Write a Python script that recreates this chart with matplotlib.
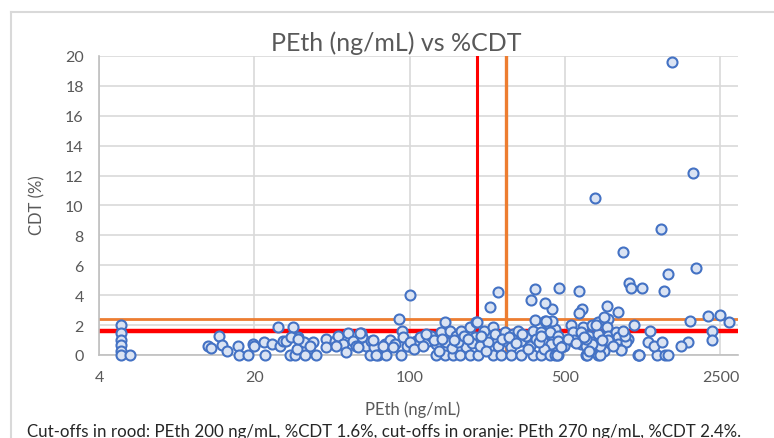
import matplotlib
matplotlib.use("Agg")
import matplotlib.pyplot as plt
from matplotlib.lines import Line2D
from matplotlib.ticker import NullLocator

plt.rcParams['font.family'] = ['Lato', 'DejaVu Sans']

# PEth below 20 ng/mL
peth_low = [5, 5, 5, 5, 5, 5, 5.5, 12.4, 12.7, 13.9, 14.3, 15.1, 16.9, 17.1, 18.8, 19.8, 20.0]
cdt_low = [2.0, 1.45, 1.0, 0.7, 0.3, 0.0, 0.0, 0.6, 0.5, 1.25, 0.7, 0.3, 0.6, 0.0, 0.0, 0.75, 0.6]

# PEth 20 - 200 ng/mL
peth_mid = [22.1, 22.3, 24.1, 25.6, 26, 27, 27.9, 29.9, 29, 30.5, 31, 31.5, 33.5, 33.7, 36.8, 38,
            41.9, 41.9, 46, 47.5, 50.2, 51.5, 52.8, 55.6, 57.5, 60.2, 61.3, 63.8, 66, 67.3, 69,
            29.3, 31.3, 35.5, 46.8, 58.6, 59.6, 68.4, 72, 77.2, 78.5, 81.3, 85.6, 89.6, 92.8, 93.3,
            91.8, 99, 107, 70.3, 75.9, 84.2, 96.8, 100, 100,
            110.9, 120.8, 125, 131.8, 138.8, 143.6, 146, 151.3, 162, 170.7, 173.5, 180, 186, 196, 199.5,
            131.8, 143.6, 156.6, 167.7, 186, 202,
            105, 115, 128, 135, 140, 155, 165, 175, 190, 118, 158, 183]
cdt_mid = [0.85, 0.0, 0.73, 1.85, 0.62, 0.95, 0.95, 1.85, 0.0, 0.0, 0.4, 1.18, 0.85, 0.0, 0.85, 0.0,
           1.07, 0.51, 0.95, 1.29, 0.73, 0.18, 1.47, 0.95, 0.62, 1.47, 1.18, 0.62, 0.0, 0.95, 0.51,
           1.18, 1.07, 0.62, 0.62, 0.51, 1.45, 1.0, 0.0, 0.73, 0.0, 1.0, 0.73, 2.4, 1.62, 1.18,
           0.0, 0.62, 0.95, 0.0, 0.62, 0.51, 0.62, 0.85, 4.0,
           1.18, 0.96, 1.29, 0.73, 1.51, 2.18, 0.85, 1.62, 1.29, 1.62, 0.85, 0.51, 1.85, 1.18, 2.18,
           0.0, 0.0, 0.0, 0.0, 0.0, 0.0,
           0.4, 0.6, 1.0, 0.3, 1.1, 0.5, 0.9, 1.3, 0.8, 1.4, 1.0, 1.1]

# PEth above 200 ng/mL
peth_high = [206.4, 217, 224.5, 236.9, 241, 249, 267.3, 271.5, 285.7, 290.4, 305.6, 316.5, 334.8, 346,
             358, 370, 397.5, 411, 433, 449,
             236.9, 258, 285.7, 316.5, 358, 389,
             230, 250, 200, 368, 408, 437, 352, 405, 368, 470, 580, 593, 575, 770, 865, 750, 779,
             1025, 911, 970, 985, 1115, 1455, 1400, 1940, 1510, 1880, 680, 1350,
             533, 601, 664, 700, 774, 439, 411,
             391, 404, 426, 464, 542, 592, 644, 700, 779, 850, 924, 864, 956,
             397.5, 433, 464, 488, 542, 592, 622, 664, 713, 792, 864, 893, 940, 404,
             426, 464, 622, 700, 750, 1080,
             449, 460, 630, 715, 1063, 1075, 1293, 1408, 1460, 1210, 1178, 1262, 1367,
             1815, 2200, 2500, 2720, 2300, 2300, 1780, 1665, 930, 911, 890, 780, 720, 660, 620,
             550, 497, 480, 691, 745,
             210, 220, 260, 280, 300, 320, 340, 380, 390, 515, 560, 610, 640, 730, 820]
cdt_high = [0.62, 1.62, 0.85, 1.85, 1.4, 0.62, 1.51, 0.96, 0.51, 1.4, 1.62, 0.96, 1.29, 0.62,
            1.62, 1.07, 1.51, 0.84, 1.29, 1.73,
            0.0, 0.0, 0.0, 0.0, 0.0, 0.0,
            3.2, 4.2, 2.2, 2.35, 2.3, 3.07, 3.7, 3.5, 4.4, 4.5, 4.3, 3.1, 2.8, 3.3, 2.9, 2.5, 2.4,
            2.0, 6.9, 4.8, 4.5, 4.5, 5.4, 4.3, 5.8, 19.6, 12.2, 10.5, 8.4,
            2.0, 1.85, 2.0, 2.18, 1.85, 2.29, 2.29,
            1.51, 1.18, 1.51, 1.29, 1.51, 1.51, 1.29, 1.4, 1.29, 1.51, 1.4, 1.18, 1.07,
            0.96, 0.73, 0.96, 0.62, 0.96, 0.73, 0.62, 0.84, 0.51, 0.96, 0.73, 0.4, 0.84, 0.4,
            0.0, 0.0, 0.0, 0.0, 0.29, 0.0,
            0.0, 0.0, 0.0, 0.0, 0.0, 0.0, 0.0, 0.0, 0.0, 1.6, 0.85, 0.6, 0.85,
            2.3, 2.6, 2.7, 2.2, 1.6, 1.0, 0.9, 0.6, 1.29, 1.62, 0.36, 1.02, 0.62, 0.73, 1.07,
            1.0, 0.62, 0.51, 2.02, 2.51,
            1.3, 0.3, 1.1, 1.2, 0.8, 1.4, 0.4, 0.9, 1.3, 1.1, 0.8, 1.2, 0.3, 1.0, 0.6]

x_ticks = [4, 20, 100, 500, 2500]
y_ticks = list(range(0, 21, 2))

cut_red = (200, 1.6)
cut_orange = (270, 2.4)

TEXT = "#595959"

fig = plt.figure(figsize=(7.74, 4.39), dpi=100)
ax = fig.add_axes([0.1279, 0.1891, 0.8256, 0.6811])

ax.set_xscale("log", base=5)
ax.set_xlim(4, 3000)
ax.set_ylim(0, 20)
ax.set_xticks(x_ticks)
ax.set_xticklabels([str(t) for t in x_ticks])
ax.xaxis.set_minor_locator(NullLocator())
ax.set_yticks(y_ticks)
ax.grid(True, color="#D9D9D9", linewidth=1.2)
ax.set_axisbelow(True)
for side in ("top", "right"):
    ax.spines[side].set_visible(False)
for side in ("left", "bottom"):
    ax.spines[side].set_color("#BFBFBF")
    ax.spines[side].set_linewidth(1.2)
ax.tick_params(length=0, labelsize=11.5, colors=TEXT)
ax.tick_params(axis="y", pad=11)
ax.tick_params(axis="x", pad=11)

# cut-off lines
ax.axvline(cut_red[0], color="#FF0000", linewidth=2.2, zorder=2)
ax.axhline(cut_red[1], color="#FF0000", linewidth=3.2, zorder=2)
ax.axvline(cut_orange[0], color="#ED7D31", linewidth=2.4, zorder=2)
ax.axhline(cut_orange[1], color="#ED7D31", linewidth=2.0, zorder=2)

for xs, ys in ((peth_low, cdt_low), (peth_mid, cdt_mid), (peth_high, cdt_high)):
    ax.scatter(xs, ys, s=52, facecolor="#DAE3F3", edgecolor="#4472C4",
               linewidth=1.5, zorder=3, clip_on=False)

fig.text(0.5116, 0.902, "PEth (ng/mL) vs %CDT", ha="center", va="center",
         fontsize=18, color=TEXT)
fig.text(0.5325, 0.066, "PEth (ng/mL)", ha="center", va="center", fontsize=12, color=TEXT)
fig.text(0.048, 0.533, "CDT (%)", ha="center", va="center", rotation=90,
         fontsize=12, color=TEXT)
fig.text(0.035, 0.005,
         "Cut-offs in rood: PEth 200 ng/mL, %CDT 1.6%, cut-offs in oranje: PEth 270 ng/mL, %CDT 2.4%.",
         ha="left", va="baseline", fontsize=12.2, color="#262626")

# chart frame
fig.add_artist(Line2D([11 / 774, 11 / 774], [0, 1 - 13 / 439], color="#D9D9D9", linewidth=1.5))
fig.add_artist(Line2D([11 / 774, 1], [1 - 13 / 439, 1 - 13 / 439], color="#D9D9D9", linewidth=1.5))

fig.savefig("out.png", dpi=100)
